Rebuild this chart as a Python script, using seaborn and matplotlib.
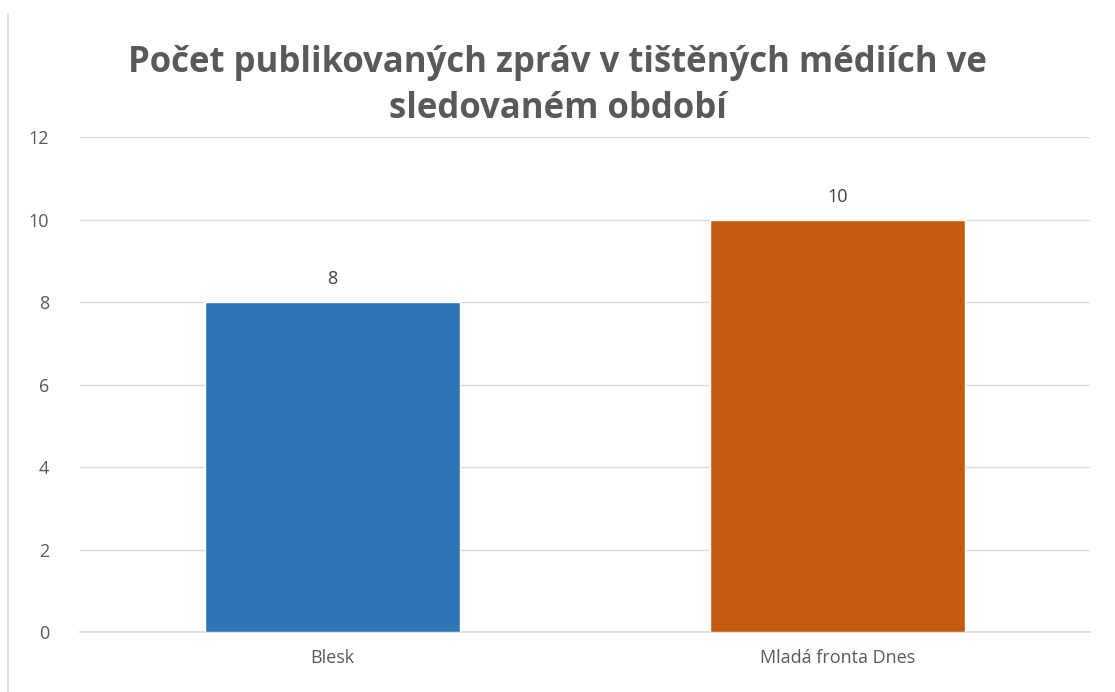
import matplotlib
matplotlib.use("Agg")
import matplotlib.pyplot as plt
import seaborn as sns
import pandas as pd
from matplotlib.lines import Line2D

# Data
media = ["Blesk", "Mladá fronta Dnes"]
counts = [8, 10]
bar_colors = ["#2E75B6", "#C55A11"]
title = "Počet publikovaných zpráv v tištěných médiích ve\nsledovaném období"

df = pd.DataFrame({"media": media, "count": counts})

sns.set_theme(style="white")
plt.rcParams["font.family"] = ["Open Sans", "DejaVu Sans"]
text_color = "#595959"

fig = plt.figure(figsize=(11.15, 6.92), dpi=100)
ax = fig.add_axes([0.0717, 0.0867, 0.906, 0.7153])

sns.barplot(data=df, x="media", y="count", hue="media", palette=bar_colors,
            saturation=1, width=0.505, legend=False, ax=ax, zorder=3)

ax.set_ylim(0, 12)
ax.set_yticks(range(0, 13, 2))
ax.grid(axis="y", color="#D9D9D9", linewidth=1, zorder=0)
for s in ["top", "right", "left"]:
    ax.spines[s].set_visible(False)
ax.spines["bottom"].set_color("#D9D9D9")
ax.spines["bottom"].set_linewidth(1.2)
ax.tick_params(axis="both", length=0, labelsize=13, colors=text_color)
ax.tick_params(axis="y", pad=22)
ax.tick_params(axis="x", pad=12)
ax.set_xlabel("")
ax.set_ylabel("")

for cont in ax.containers:
    ax.bar_label(cont, padding=10, fontsize=13, color="#404040")

fig.text(0.5, 0.876, title, ha="center", va="center", fontsize=25,
         fontweight="bold", color=text_color, linespacing=1.38)

# chart area border at the left
fig.add_artist(Line2D([0.0072, 0.0072], [0.0, 0.98], color="#D9D9D9",
                      linewidth=1.2, transform=fig.transFigure))

fig.savefig("out.png", dpi=100)
